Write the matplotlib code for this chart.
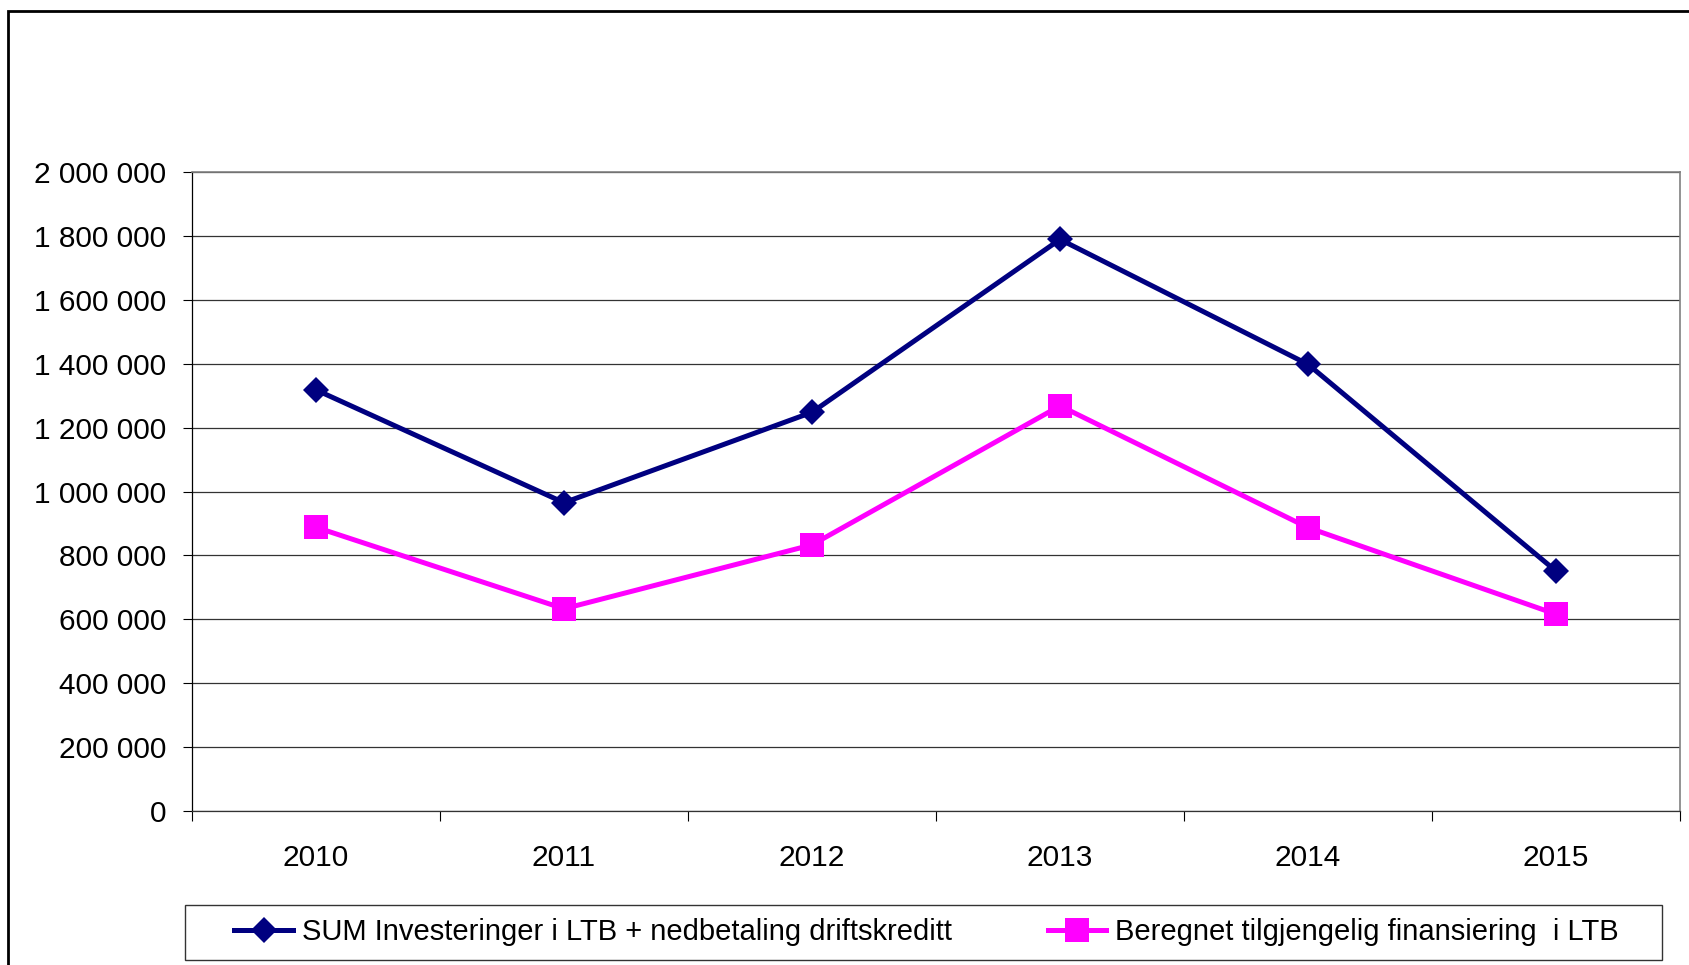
import matplotlib
matplotlib.use("Agg")
from matplotlib import pyplot as plt
from matplotlib.patches import Rectangle
import numpy as np

years = ['2010', '2011', '2012', '2013', '2014', '2015']
sum_invest = [1318000, 965000, 1248000, 1789000, 1398000, 751000]
beregnet = [888000, 633000, 833000, 1268000, 887000, 616000]
label_sum = 'SUM Investeringer i LTB + nedbetaling driftskreditt'
label_ber = 'Beregnet tilgjengelig finansiering  i LTB'
y_ticks = np.arange(0, 2000001, 200000)

plt.rcParams['font.family'] = ['Liberation Sans', 'DejaVu Sans']

W, H = 1689, 965
fig = plt.figure(figsize=(W / 100, H / 100), dpi=100)

# outer chart frame, running off the right and bottom edges
fig.patches.append(Rectangle((8 / W, -0.05), 1.1, 1 - 11 / H + 0.05,
                             transform=fig.transFigure, fill=False,
                             edgecolor='black', linewidth=2))

left, right, top, bottom = 192, 1680, 172, 811
ax = fig.add_axes([left / W, 1 - bottom / H, (right - left) / W, (bottom - top) / H])

x = np.arange(len(years))
ax.plot(x, sum_invest, color='#000080', lw=3.6, marker='D', ms=13.5, mew=0,
        label=label_sum, zorder=3)
ax.plot(x, beregnet, color='#FF00FF', lw=3.6, marker='s', ms=17, mew=0,
        label=label_ber, zorder=3)

ax.set_xlim(-0.5, len(years) - 0.5)
ax.set_ylim(0, 2000000)
ax.set_yticks(y_ticks)
ax.set_yticklabels([f"{v:,}".replace(',', ' ') for v in y_ticks])
ax.set_xticks(x)
ax.set_xticklabels(years)
ax.set_xticks(np.arange(-0.5, len(years)), minor=True)

ax.tick_params(axis='x', which='major', length=0, pad=24, labelsize=21.5)
ax.tick_params(axis='x', which='minor', length=7, width=0.8, direction='out')
ax.tick_params(axis='y', length=6.5, width=0.8, pad=12, labelsize=21.5)

ax.yaxis.grid(True, color='#333333', lw=0.9)
ax.set_axisbelow(True)
for s in ['top', 'right']:
    ax.spines[s].set_color('#808080')
    ax.spines[s].set_linewidth(1.2)
ax.spines['left'].set_linewidth(0.9)
ax.spines['bottom'].set_linewidth(0.9)
ax.spines['bottom'].set_color('#333333')

# legend box drawn separately so its padding can differ from the text layout
lx0, ly0, lx1, ly1 = 185, 905, 1662, 960
fig.patches.append(Rectangle((lx0 / W, 1 - ly1 / H), (lx1 - lx0) / W, (ly1 - ly0) / H,
                             transform=fig.transFigure, fill=False,
                             edgecolor='#333333', linewidth=1.0))
fig.legend(loc='center', ncol=2,
           bbox_to_anchor=((lx0 + lx1) / 2 / W + 3 / W, 1 - (ly0 + ly1) / 2 / H),
           fontsize=21, frameon=False, handlelength=2.0,
           handletextpad=0.3, columnspacing=3.3, borderpad=0, borderaxespad=0)

fig.savefig('out.png', dpi=100)
